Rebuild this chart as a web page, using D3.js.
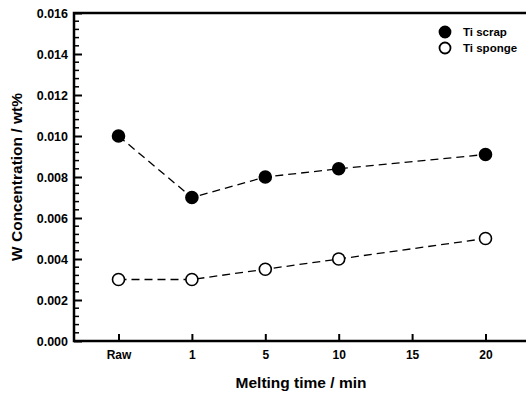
<!DOCTYPE html>
<html><head><meta charset="utf-8">
<script src="https://cdn.jsdelivr.net/npm/d3@7"></script>
<style>body{margin:0;background:#fff}svg{display:block;font-family:"Liberation Sans",Arial,sans-serif;font-weight:bold}</style>
</head><body><svg id="c" width="526" height="395"></svg>
<script>
const categories = ["Raw","1","5","10","15","20"];
const scrapX = ["Raw","1","5","10","20"];
const scrapY = [0.010,0.007,0.008,0.0084,0.0091];
const spongeX = ["Raw","1","5","10","20"];
const spongeY = [0.003,0.003,0.0035,0.004,0.005];
const yTicks = [0,0.002,0.004,0.006,0.008,0.010,0.012,0.014,0.016];
const seriesNames = ["Ti scrap","Ti sponge"];

const svg = d3.select("#c");
const L = 74, R = 526, T = 13, B = 341;
const x = d3.scalePoint().domain(categories).range([118.5, 485.5]);
const y = d3.scaleLinear().domain([0,0.016]).range([B,T]);

// minor y ticks
const minor = d3.range(0,0.01601,0.0004).filter(v=>Math.abs(v/0.002-Math.round(v/0.002))>1e-6);
svg.append("g").selectAll("line").data(minor).join("line")
  .attr("x1",L).attr("x2",L+5).attr("y1",d=>y(d)).attr("y2",d=>y(d))
  .attr("stroke","#000").attr("stroke-width",1.5);

const ya = svg.append("g").attr("transform",`translate(${L},0)`)
  .call(d3.axisLeft(y).tickValues(yTicks).tickFormat(d3.format(".3f")).tickSize(-8).tickPadding(6));
ya.select(".domain").remove();
ya.selectAll(".tick line").attr("stroke-width",2);
ya.selectAll("text").attr("font-size",12.5).attr("font-weight","bold").attr("font-family","Liberation Sans, Arial, sans-serif").attr("fill","#000");

const xa = svg.append("g").attr("transform",`translate(0,${B})`)
  .call(d3.axisBottom(x).tickSize(-7).tickPadding(9));
xa.select(".domain").remove();
xa.selectAll(".tick line").attr("stroke-width",2);
xa.selectAll("text").attr("font-size",12).attr("font-weight","bold").attr("font-family","Liberation Sans, Arial, sans-serif").attr("fill","#000").attr("dy","0.71em");

// frame
svg.append("path").attr("d",`M${R},${T}H${L}V${B}H${R}`).attr("fill","none").attr("stroke","#000").attr("stroke-width",2.5);

const line = d3.line().x(d=>x(d[0])).y(d=>y(d[1]));
const series = [
  {name:seriesNames[0], pts:d3.zip(scrapX,scrapY), fill:"#000"},
  {name:seriesNames[1], pts:d3.zip(spongeX,spongeY), fill:"#fff"}
];
series.forEach(s=>{
  svg.append("path").attr("d",line(s.pts)).attr("fill","none").attr("stroke","#000")
    .attr("stroke-width",1.3).attr("stroke-dasharray","8,5");
  svg.append("g").selectAll("circle").data(s.pts).join("circle")
    .attr("cx",d=>x(d[0])).attr("cy",d=>y(d[1])).attr("r",6)
    .attr("fill",s.fill).attr("stroke","#000").attr("stroke-width",1.6);
});

// legend
series.forEach((s,i)=>{
  const ly = 32 + i*16;
  svg.append("circle").attr("cx",445).attr("cy",ly).attr("r",5.5).attr("fill",s.fill).attr("stroke","#000").attr("stroke-width",1.8);
  svg.append("text").attr("x",463).attr("y",ly).attr("dy","0.35em").attr("font-size",11.5).text(s.name);
});

svg.append("text").attr("x",(L+R)/2+1).attr("y",383).attr("dy","0.35em").attr("text-anchor","middle").attr("font-size",15.5).text("Melting time / min");
svg.append("text").attr("transform",`translate(17,${(T+B)/2}) rotate(-90)`).attr("dy","0.35em").attr("text-anchor","middle").attr("font-size",15.5).text("W Concentration / wt%");
</script></body></html>
